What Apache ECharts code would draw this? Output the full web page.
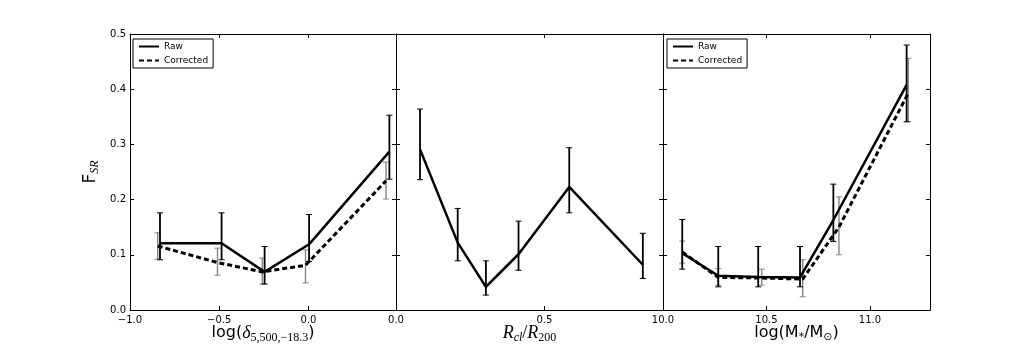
<!DOCTYPE html>
<html>
<head>
<meta charset="utf-8">
<script src="https://cdn.jsdelivr.net/npm/echarts@6/dist/echarts.min.js"></script>
<style>
html, body { margin: 0; padding: 0; background: #fff; }
#chart { width: 1034px; height: 345px; }
</style>
</head>
<body>
<div id="chart"></div>
<script>
// panel 1: local density
var densRawX = [-0.832, -0.487, -0.246, 0.003, 0.453];
var densRawY = [0.121, 0.121, 0.069, 0.119, 0.287];
var densRawLo = [0.091, 0.091, 0.047, 0.088, 0.237];
var densRawHi = [0.176, 0.176, 0.115, 0.173, 0.353];
var densCorX = [-0.845, -0.510, -0.259, -0.017, 0.434];
var densCorY = [0.116, 0.086, 0.069, 0.081, 0.234];
var densCorLo = [0.092, 0.063, 0.047, 0.049, 0.201];
var densCorHi = [0.140, 0.112, 0.094, 0.109, 0.268];

// panel 2: cluster-centric radius
var radX = [0.081, 0.208, 0.303, 0.413, 0.584, 0.832];
var radY = [0.291, 0.122, 0.042, 0.101, 0.223, 0.082];
var radLo = [0.236, 0.089, 0.027, 0.072, 0.176, 0.057];
var radHi = [0.364, 0.184, 0.089, 0.161, 0.294, 0.139];

// panel 3: stellar mass
var massRawX = [10.093, 10.267, 10.460, 10.662, 10.823, 11.177];
var massRawY = [0.103, 0.062, 0.060, 0.059, 0.163, 0.408];
var massRawLo = [0.074, 0.042, 0.042, 0.042, 0.124, 0.341];
var massRawHi = [0.164, 0.115, 0.115, 0.115, 0.228, 0.480];
var massCorX = [10.093, 10.267, 10.477, 10.675, 10.850, 11.185];
var massCorY = [0.105, 0.059, 0.058, 0.056, 0.150, 0.393];
var massCorLo = [0.085, 0.045, 0.045, 0.024, 0.100, 0.341];
var massCorHi = [0.125, 0.075, 0.074, 0.091, 0.205, 0.456];

// axes ranges
var xRanges = [[-1.0, 0.49], [0.0, 0.9], [10.0, 11.29]];
var xStep = 0.5;
var yMin = 0, yMax = 0.5, yStep = 0.1;

var FONT = 'DejaVu Sans';
var SERIF = 'Liberation Serif';

function pts(xs, ys) {
    var out = [];
    for (var i = 0; i < xs.length; i++) out.push([xs[i], ys[i]]);
    return out;
}
function errs(xs, lo, hi) {
    var out = [];
    for (var i = 0; i < xs.length; i++) out.push([xs[i], lo[i], hi[i]]);
    return out;
}

// 误差棒
function errorBars(color, width) {
    return function (params, api) {
        var x = api.value(0);
        var lo = api.coord([x, api.value(1)]);
        var hi = api.coord([x, api.value(2)]);
        var c = 3;
        var st = {stroke: color, lineWidth: width};
        var capSt = {stroke: color, lineWidth: 1};
        return {
            type: 'group',
            children: [
                {type: 'line', shape: {x1: lo[0], y1: lo[1], x2: hi[0], y2: hi[1]}, style: st},
                {type: 'line', shape: {x1: lo[0] - c, y1: lo[1], x2: lo[0] + c, y2: lo[1]}, style: capSt},
                {type: 'line', shape: {x1: hi[0] - c, y1: hi[1], x2: hi[0] + c, y2: hi[1]}, style: capSt}
            ]
        };
    };
}

function fmtX(v) {
    var r = Math.round(v / xStep) * xStep;
    if (Math.abs(r - v) > 1e-6) return '';
    return r.toFixed(1).replace('-', '\u2212');
}

var axLine = {show: true, onZero: false, lineStyle: {color: '#000', width: 1}};
var axTick = {show: true, inside: true, length: 4, lineStyle: {color: '#000', width: 1}};

var grids = [
    {left: 130, top: 34, width: 266, height: 276, outerBoundsMode: 'none', containLabel: false},
    {left: 396, top: 34, width: 267, height: 276, outerBoundsMode: 'none', containLabel: false},
    {left: 663, top: 34, width: 267, height: 276, outerBoundsMode: 'none', containLabel: false}
];

var nameRich = {
    t: {fontFamily: FONT, fontSize: 16, color: '#000', lineHeight: 20},
    d: {fontFamily: SERIF, fontStyle: 'italic', fontSize: 18, color: '#000', lineHeight: 20},
    s: {fontFamily: SERIF, fontSize: 12, color: '#000', lineHeight: 20, padding: [9, 0, 0, 0]},
    i: {fontFamily: SERIF, fontStyle: 'italic', fontSize: 18, color: '#000', lineHeight: 20},
    si: {fontFamily: SERIF, fontStyle: 'italic', fontSize: 12, color: '#000', lineHeight: 20, padding: [9, 0, 0, 0]},
    sl: {fontFamily: SERIF, fontSize: 18, color: '#000', lineHeight: 20},
    s2: {fontFamily: FONT, fontSize: 11, color: '#000', lineHeight: 20, padding: [9, 0, 0, 0]}
};
var xNames = [
    '{t|log(}{d|δ}{s|5,500,\u221218.3}{t|)}',
    '{i|R}{si|cl}{sl|/}{i|R}{s|200}',
    '{t|log(M}{s2|*}{t|/M}{s2|\u2299}{t|)}'
];

var xAxis = [], yAxis = [];
for (var g = 0; g < 3; g++) {
    xAxis.push({
        type: 'value', gridIndex: g, position: 'bottom',
        min: xRanges[g][0], max: xRanges[g][1], interval: xStep,
        axisLine: axLine, axisTick: axTick, splitLine: {show: false},
        axisLabel: {fontFamily: FONT, fontSize: 10, color: '#000', margin: 5, formatter: fmtX},
        name: xNames[g], nameLocation: 'middle', nameGap: 13, nameMoveOverlap: false,
        nameTextStyle: {lineHeight: 20, rich: nameRich}
    });
}
for (g = 0; g < 3; g++) {
    xAxis.push({
        type: 'value', gridIndex: g, position: 'top',
        min: xRanges[g][0], max: xRanges[g][1], interval: xStep,
        axisLine: axLine, axisTick: axTick, splitLine: {show: false},
        axisLabel: {show: false}
    });
}
for (g = 0; g < 3; g++) {
    var ya = {
        type: 'value', gridIndex: g, position: 'left',
        min: yMin, max: yMax, interval: yStep,
        axisLine: axLine, axisTick: axTick, splitLine: {show: false},
        axisLabel: {show: g === 0, fontFamily: FONT, fontSize: 10, color: '#000', margin: 4,
            formatter: function (v) { return v.toFixed(1); }}
    };
    if (g === 0) {
        ya.name = '{f|F}{s|SR}';
        ya.nameLocation = 'middle';
        ya.nameGap = 29;
        ya.nameTextStyle = {
            lineHeight: 20,
            rich: {
                f: {fontFamily: FONT, fontSize: 17, color: '#000', lineHeight: 20},
                s: {fontFamily: SERIF, fontStyle: 'italic', fontSize: 12, color: '#000', lineHeight: 20, padding: [8, 0, 0, 0]}
            }
        };
    }
    yAxis.push(ya);
}
for (g = 0; g < 3; g++) {
    yAxis.push({
        type: 'value', gridIndex: g, position: 'right',
        min: yMin, max: yMax, interval: yStep,
        axisLine: axLine, axisTick: axTick, splitLine: {show: false},
        axisLabel: {show: false}
    });
}

function errSeries(g, data, color, width) {
    return {
        type: 'custom', xAxisIndex: g, yAxisIndex: g,
        renderItem: errorBars(color, width),
        encode: {x: 0, y: [1, 2]},
        data: data, silent: true, z: 2
    };
}
function lineSeries(g, name, data, dashed) {
    return {
        name: name, type: 'line', xAxisIndex: g, yAxisIndex: g,
        data: data, symbol: 'none', showSymbol: false, silent: true, z: 3,
        lineStyle: {color: '#000', width: dashed ? 3 : 2.5, type: dashed ? [5, 3] : 'solid'},
        itemStyle: {color: '#000'}
    };
}

var GREY = '#858585';
var series = [
    errSeries(0, errs(densCorX, densCorLo, densCorHi), GREY, 1.4),
    errSeries(0, errs(densRawX, densRawLo, densRawHi), '#000', 1.8),
    lineSeries(0, 'Raw', pts(densRawX, densRawY), false),
    lineSeries(0, 'Corrected', pts(densCorX, densCorY), true),

    errSeries(1, errs(radX, radLo, radHi), '#000', 1.8),
    lineSeries(1, 'Raw', pts(radX, radY), false),

    errSeries(2, errs(massCorX, massCorLo, massCorHi), GREY, 1.4),
    errSeries(2, errs(massRawX, massRawLo, massRawHi), '#000', 1.8),
    lineSeries(2, 'Raw', pts(massRawX, massRawY), false),
    lineSeries(2, 'Corrected', pts(massCorX, massCorY), true)
];

function legendAt(left) {
    return {
        data: ['Raw', 'Corrected'],
        left: left, top: 39, orient: 'vertical',
        itemWidth: 20, itemHeight: 10, itemGap: 5,
        padding: [3, 5, 3, 5],
        borderColor: '#000', borderWidth: 1, borderRadius: 0,
        backgroundColor: '#fff',
        selectedMode: false,
        itemStyle: {opacity: 0},
        textStyle: {fontFamily: FONT, fontSize: 9, color: '#000', padding: [0, 0, 0, 0]}
    };
}

var myChart = echarts.init(document.getElementById('chart'), null, {renderer: 'canvas'});
myChart.setOption({
    animation: false,
    backgroundColor: '#fff',
    grid: grids,
    xAxis: xAxis,
    yAxis: yAxis,
    legend: [legendAt(133), legendAt(667)],
    series: series
});
</script>
</body>
</html>
